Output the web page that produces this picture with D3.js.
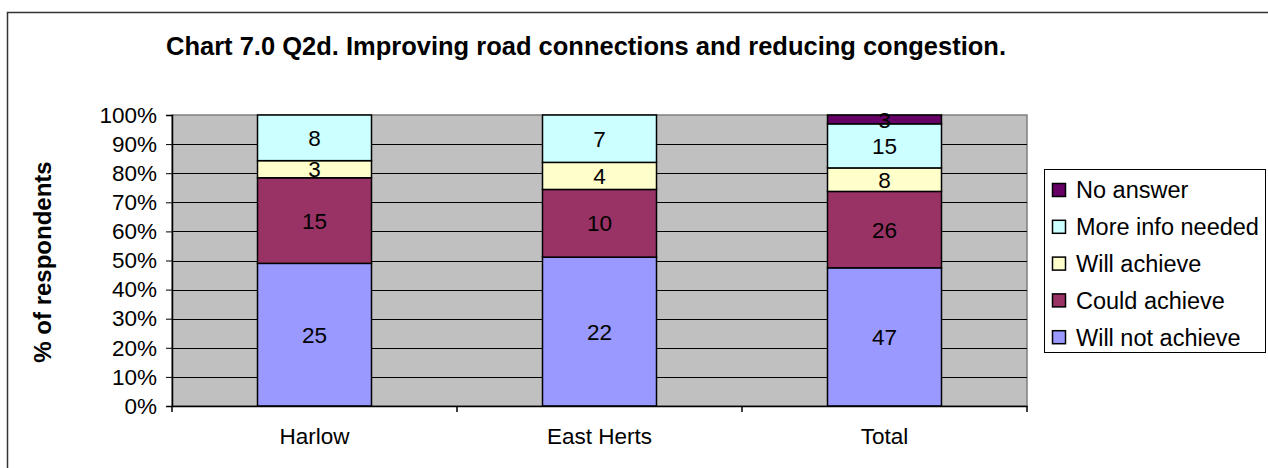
<!DOCTYPE html>
<html>
<head>
<meta charset="utf-8">
<script src="https://cdn.jsdelivr.net/npm/d3@7"></script>
<style>
  body { margin: 0; background: #fff; }
  svg { display: block; font-family: Arial, "Liberation Sans", sans-serif; }
</style>
</head>
<body>
<div id="chart"></div>
<script>
var svgWidth = 1268;
var svgHeight = 468;

// data (counts per category)
var categories = ["Harlow", "East Herts", "Total"];
var seriesNames = ["Will not achieve", "Could achieve", "Will achieve", "More info needed", "No answer"];
var willNot = [25, 22, 47];
var could = [15, 10, 26];
var willAchieve = [3, 4, 8];
var moreInfo = [8, 7, 15];
var noAnswer = [0, 0, 3];
var yTicks = [0, 0.1, 0.2, 0.3, 0.4, 0.5, 0.6, 0.7, 0.8, 0.9, 1];

var colors = ["#9999FF", "#993366", "#FFFFCC", "#CCFFFF", "#660066"];

var margin = { top: 115, right: 241, bottom: 62, left: 172 };
var width = svgWidth - margin.left - margin.right;
var height = svgHeight - margin.top - margin.bottom;

var svg = d3.select("#chart").append("svg")
  .attr("width", svgWidth)
  .attr("height", svgHeight);

// outer chart border (runs off right/bottom edge)
svg.append("rect")
  .attr("x", 7.5).attr("y", 12.5)
  .attr("width", 1300).attr("height", 500)
  .attr("fill", "#fff")
  .attr("stroke", "#333").attr("stroke-width", 1.5);

// build table
var table = categories.map(function(c, i) {
  var row = { cat: c };
  row[seriesNames[0]] = willNot[i];
  row[seriesNames[1]] = could[i];
  row[seriesNames[2]] = willAchieve[i];
  row[seriesNames[3]] = moreInfo[i];
  row[seriesNames[4]] = noAnswer[i];
  return row;
});

var stacked = d3.stack().keys(seriesNames).offset(d3.stackOffsetExpand)(table);

var x = d3.scaleBand().domain(categories).range([0, width]).paddingInner(0.6).paddingOuter(0.3);
var y = d3.scaleLinear().domain([0, 1]).range([height, 0]);

var chart = svg.append("g").attr("transform", `translate(${margin.left}, ${margin.top})`);

// plot area
chart.append("rect")
  .attr("width", width).attr("height", height)
  .attr("fill", "#C0C0C0")
  .attr("stroke", "#808080").attr("stroke-width", 1.5);

// gridlines
chart.selectAll(".grid").data(yTicks.slice(1, -1)).enter()
  .append("line")
  .attr("x1", 0).attr("x2", width)
  .attr("y1", d => Math.round(y(d)) + 0.5).attr("y2", d => Math.round(y(d)) + 0.5)
  .attr("stroke", "#000").attr("stroke-width", 1);

// bars
var layers = chart.selectAll(".layer").data(stacked).enter()
  .append("g").attr("fill", (d, i) => colors[i]);

layers.selectAll("rect").data(d => d.filter(p => p[1] - p[0] > 0)).enter()
  .append("rect")
  .attr("x", d => x(d.data.cat))
  .attr("y", d => y(d[1]))
  .attr("width", x.bandwidth())
  .attr("height", d => y(d[0]) - y(d[1]))
  .attr("stroke", "#000").attr("stroke-width", 1.5);

// data labels
stacked.forEach(function(layer) {
  layer.forEach(function(p) {
    var v = p.data[layer.key];
    if (!v) return;
    chart.append("text")
      .attr("x", x(p.data.cat) + x.bandwidth() / 2)
      .attr("y", (y(p[0]) + y(p[1])) / 2)
      .attr("dy", "0.36em")
      .attr("text-anchor", "middle")
      .attr("font-size", "22.5px")
      .attr("fill", "#000")
      .text(v);
  });
});

// y axis
var leftAxis = d3.axisLeft(y).tickValues(yTicks).tickFormat(d3.format(".0%")).tickSize(6).tickPadding(9);
var yAxisG = chart.append("g").call(leftAxis);
yAxisG.select(".domain").attr("stroke", "#000").attr("stroke-width", 1.5);
yAxisG.selectAll("text").attr("font-size", "22.5px").attr("fill", "#000").attr("font-family", "Arial, 'Liberation Sans', sans-serif");

// x axis
var bottomAxis = d3.axisBottom(x).tickSize(0).tickPadding(22);
var xAxisG = chart.append("g").attr("transform", `translate(0, ${height})`).call(bottomAxis);
xAxisG.select(".domain").attr("stroke", "#000").attr("stroke-width", 1.5);
xAxisG.selectAll("text").attr("font-size", "22.5px").attr("fill", "#000").attr("font-family", "Arial, 'Liberation Sans', sans-serif");
// boundary ticks between categories
var boundaries = d3.range(categories.length + 1).map(i => i * width / categories.length);
xAxisG.selectAll(".btick").data(boundaries).enter()
  .append("line")
  .attr("x1", d => d).attr("x2", d => d)
  .attr("y1", 0).attr("y2", 6)
  .attr("stroke", "#000").attr("stroke-width", 1.5);

// title
svg.append("text")
  .attr("x", 586).attr("y", 55)
  .attr("text-anchor", "middle")
  .attr("font-size", "25px").attr("font-weight", "bold")
  .attr("textLength", 840).attr("lengthAdjust", "spacingAndGlyphs")
  .text("Chart 7.0 Q2d. Improving road connections and reducing congestion.");

// y label
svg.append("text")
  .attr("transform", "translate(51, 262) rotate(-90)")
  .attr("text-anchor", "middle")
  .attr("font-size", "24px").attr("font-weight", "bold")
  .text("% of respondents");

// legend
var legend = svg.append("g");
legend.append("rect")
  .attr("x", 1044.5).attr("y", 169.5).attr("width", 221).attr("height", 183)
  .attr("fill", "#fff").attr("stroke", "#000").attr("stroke-width", 1);

var legendOrder = seriesNames.slice().reverse();
var items = legend.selectAll(".item").data(legendOrder).enter()
  .append("g")
  .attr("transform", (d, i) => `translate(1052, ${190 + i * 36.8})`);
items.append("rect")
  .attr("x", 0.5).attr("y", -6.5).attr("width", 13).attr("height", 13)
  .attr("fill", d => colors[seriesNames.indexOf(d)])
  .attr("stroke", "#000").attr("stroke-width", 1.5);
items.append("text")
  .attr("x", 24).attr("y", 0).attr("dy", "0.36em")
  .attr("font-size", "23.5px")
  .text(d => d);
</script>
</body>
</html>
